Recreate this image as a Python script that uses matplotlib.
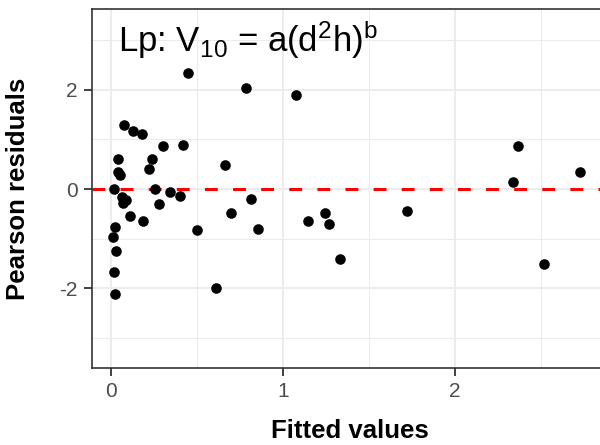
import matplotlib
matplotlib.use("Agg")
import matplotlib.pyplot as plt

plt.rcParams["font.family"] = ["Liberation Sans", "DejaVu Sans"]
plt.rcParams["mathtext.fontset"] = "custom"
plt.rcParams["mathtext.rm"] = "Liberation Sans"
plt.rcParams["mathtext.it"] = "Liberation Sans"
plt.rcParams["axes.unicode_minus"] = False

# fitted values and pearson residuals
fitted = [0.446, 0.785, 1.076, 0.077, 0.13, 0.178, 0.30, 0.42, 0.043, 0.24,
          0.043, 0.055, 0.22, 0.665, 0.017, 0.256, 0.343, 0.40, 0.062, 0.087,
          0.072, 0.28, 0.814, 0.70, 0.11, 0.184, 0.023, 0.013, 0.498, 0.856,
          1.143, 1.246, 1.266, 1.33, 0.029, 0.016, 0.023, 0.612, 1.72, 2.366,
          2.34, 2.727, 2.52]
resid = [2.34, 2.03, 1.885, 1.29, 1.17, 1.11, 0.865, 0.88, 0.60, 0.60,
         0.34, 0.29, 0.40, 0.49, 0.0, 0.0, -0.05, -0.13, -0.17, -0.22,
         -0.29, -0.31, -0.20, -0.48, -0.55, -0.64, -0.76, -0.96, -0.83, -0.81,
         -0.64, -0.48, -0.70, -1.40, -1.25, -1.68, -2.11, -2.0, -0.45, 0.865,
         0.14, 0.34, -1.51]
x_ticks = [0, 1, 2]
y_ticks = [-2, 0, 2]

fig = plt.figure(figsize=(6, 4.45), dpi=100)
# panel runs a little past the right edge, like the cropped original
ax = fig.add_axes([91.7 / 600, 1 - 368.3 / 445, (608 - 91.7) / 600, 359 / 445])

ax.set_xlim(-0.112, 2.89)
ax.set_ylim(-3.61, 3.62)
ax.set_xticks(x_ticks)
ax.set_yticks(y_ticks)
ax.set_xticks([0.5, 1.5, 2.5], minor=True)
ax.set_yticks([-3, -1, 1, 3], minor=True)

ax.grid(True, which="major", color="#EBEBEB", linewidth=1.3, zorder=0)
ax.grid(True, which="minor", color="#EBEBEB", linewidth=0.7, zorder=0)
ax.set_axisbelow(True)

ax.axhline(0, color="#FF0000", linewidth=2.2, dashes=(4.2, 5), zorder=2)
ax.scatter(fitted, resid, s=58, color="black", linewidths=0, zorder=3)

for sp in ax.spines.values():
    sp.set_color("#333333")
    sp.set_linewidth(1.2)

ax.tick_params(which="major", length=6, width=1.3, color="#333333",
               labelcolor="#4D4D4D", labelsize=15, pad=4)
ax.tick_params(which="minor", length=0)

ax.set_xlabel("Fitted values", fontsize=18.5, fontweight="bold", va="center")
ax.set_ylabel("Pearson residuals", fontsize=18.5, fontweight="bold", va="center")
ax.xaxis.set_label_coords(0.5, (368.3 - 431) / 359)
ax.yaxis.set_label_coords((18 - 91.7) / 516.3, 0.5)

ax.text(0.051, 0.881, r"Lp: V$_{10}$ = a(d$^{2}$h)$^{b}$", transform=ax.transAxes,
        fontsize=25, va="baseline", ha="left")

fig.savefig("out.png", dpi=100)
